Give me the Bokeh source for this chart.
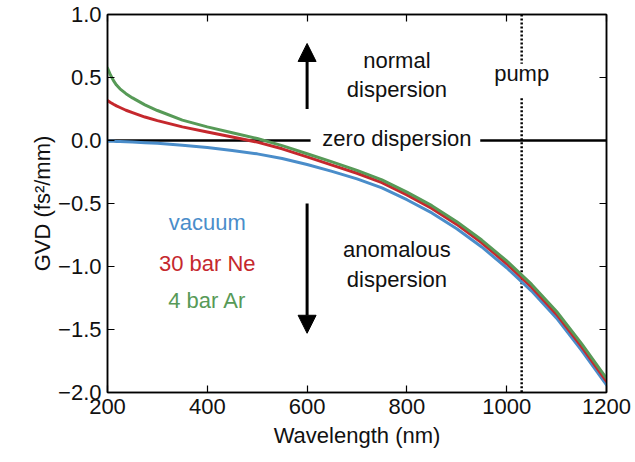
from bokeh.plotting import figure
from bokeh.models import (Label, Arrow, NormalHead, LinearAxis, FixedTicker,
                          CustomJSTickFormatter, Range1d, ColumnDataSource)
from bokeh.embed import file_html
from bokeh.resources import INLINE

# Group-velocity dispersion of the fibre core, fs^2/mm, versus wavelength (nm)
wavelength = [200, 206, 212, 218, 225, 237, 250, 275, 300, 350, 400, 450, 500,
              550, 600, 650, 700, 750, 800, 850, 900, 950, 1000, 1050, 1100,
              1150, 1200]
gvd_vacuum = [-0.005, -0.005, -0.006, -0.007, -0.008, -0.010, -0.012, -0.017,
              -0.022, -0.037, -0.056, -0.079, -0.106, -0.143, -0.19, -0.245,
              -0.305, -0.376, -0.47, -0.575, -0.70, -0.845, -1.01, -1.195,
              -1.41, -1.665, -1.94]
gvd_ne30 = [0.317, 0.302, 0.288, 0.275, 0.262, 0.240, 0.221, 0.186, 0.158,
            0.108, 0.068, 0.028, -0.013, -0.066, -0.13, -0.195, -0.26, -0.335,
            -0.432, -0.539, -0.666, -0.812, -0.978, -1.164, -1.38, -1.635,
            -1.911]
gvd_ar4 = [0.575, 0.52, 0.475, 0.44, 0.41, 0.372, 0.338, 0.283, 0.238, 0.162,
           0.108, 0.062, 0.016, -0.041, -0.105, -0.17, -0.237, -0.313, -0.41,
           -0.517, -0.644, -0.79, -0.956, -1.142, -1.357, -1.612, -1.887]

series_names = ["vacuum", "30 bar Ne", "4 bar Ar"]
series_colors = ["#4a8dca", "#c5282d", "#579a57"]

x_ticks = [200, 400, 600, 800, 1000, 1200]
x_tick_labels = ["200", "400", "600", "800", "1000", "1200"]
y_ticks = [-2.0, -1.5, -1.0, -0.5, 0.0, 0.5, 1.0]
y_tick_labels = ["\u22122.0", "\u22121.5", "\u22121.0", "\u22120.5", "0.0", "0.5", "1.0"]

pump_wavelength = 1030
pump_gap = (0.335, 0.61)          # break in the pump marker around its label
zero_gap = (607, 947)             # break in the zero line around its label

FONT = "Liberation Sans"
FS = "22px"

p = figure(width=635, height=462, output_backend="svg", toolbar_location=None,
           x_range=Range1d(200, 1200), y_range=Range1d(-2.0, 1.0),
           min_border_left=107, min_border_right=29, min_border_top=14,
           min_border_bottom=70)
p.background_fill_color = "white"
p.border_fill_color = "white"
p.outline_line_color = "black"
p.outline_line_width = 1.5
p.xgrid.visible = False
p.ygrid.visible = False

def style_axis(ax, ticks, labels=None):
    ax.ticker = FixedTicker(ticks=ticks)
    ax.major_tick_in = 7
    ax.major_tick_out = 0
    ax.minor_tick_line_color = None
    ax.major_tick_line_color = "black"
    ax.major_tick_line_width = 1.2
    ax.axis_line_color = "black"
    ax.axis_line_width = 1.5
    ax.major_label_text_font = FONT
    ax.major_label_text_font_size = FS
    ax.major_label_text_color = "#111111"
    ax.axis_label_text_font = FONT
    ax.axis_label_text_font_size = FS
    ax.axis_label_text_font_style = "normal"
    ax.axis_label_text_color = "#111111"
    if labels is not None:
        ax.major_label_overrides = dict(zip(ticks, labels))

style_axis(p.xaxis[0], x_ticks, x_tick_labels)
style_axis(p.yaxis[0], y_ticks, y_tick_labels)
p.xaxis.axis_label = "Wavelength (nm)"
p.yaxis.axis_label = "GVD (fs\u00b2/mm)"
p.xaxis.major_label_standoff = 6
p.yaxis.major_label_standoff = 6
p.xaxis.axis_label_standoff = 6
p.yaxis.axis_label_standoff = 0

# tick marks on the top and right edges, without labels
blank = CustomJSTickFormatter(code="return ''")
top_axis = LinearAxis(formatter=blank)
right_axis = LinearAxis(formatter=blank)
style_axis(top_axis, x_ticks)
style_axis(right_axis, y_ticks)
p.add_layout(top_axis, "above")
p.add_layout(right_axis, "right")

# zero-dispersion line, interrupted by its label
p.line([200, zero_gap[0]], [0, 0], line_color="black", line_width=2.5)
p.line([zero_gap[1], 1200], [0, 0], line_color="black", line_width=2.5)

# pump wavelength marker
p.line([pump_wavelength, pump_wavelength], [1.0, pump_gap[1]],
       line_color="black", line_width=2.5, line_dash="2 2")
p.line([pump_wavelength, pump_wavelength], [pump_gap[0], -2.0],
       line_color="black", line_width=2.5, line_dash="2 2")

src = ColumnDataSource(dict(wl=wavelength, vac=gvd_vacuum, ne=gvd_ne30, ar=gvd_ar4))
for col, color in zip(["vac", "ne", "ar"], series_colors):
    p.line("wl", col, source=src, line_color=color, line_width=3,
           line_join="round", line_cap="round")

# direction arrows
p.add_layout(Arrow(end=NormalHead(size=18, fill_color="black", line_color="black"),
                   x_start=600, y_start=0.25, x_end=600, y_end=0.77,
                   line_width=3, line_color="black"))
p.add_layout(Arrow(end=NormalHead(size=18, fill_color="black", line_color="black"),
                   x_start=600, y_start=-0.5, x_end=600, y_end=-1.53,
                   line_width=3, line_color="black"))

def add_text(x, y, text, color="#111111"):
    p.add_layout(Label(x=x, y=y, text=text, text_align="center",
                       text_baseline="alphabetic", text_font=FONT,
                       text_font_size=FS, text_color=color))

add_text(780, 0.634, "normal")
add_text(780, 0.408, "dispersion")
add_text(780, 0.017, "zero dispersion")
add_text(780, -0.862, "anomalous")
add_text(780, -1.10, "dispersion")
add_text(pump_wavelength, 0.531, "pump")

legend_y = [-0.65, -0.98, -1.27]
for name, color, y in zip(series_names, series_colors, legend_y):
    add_text(400, y, name, color)

open("out.html", "w").write(file_html(p, INLINE))
